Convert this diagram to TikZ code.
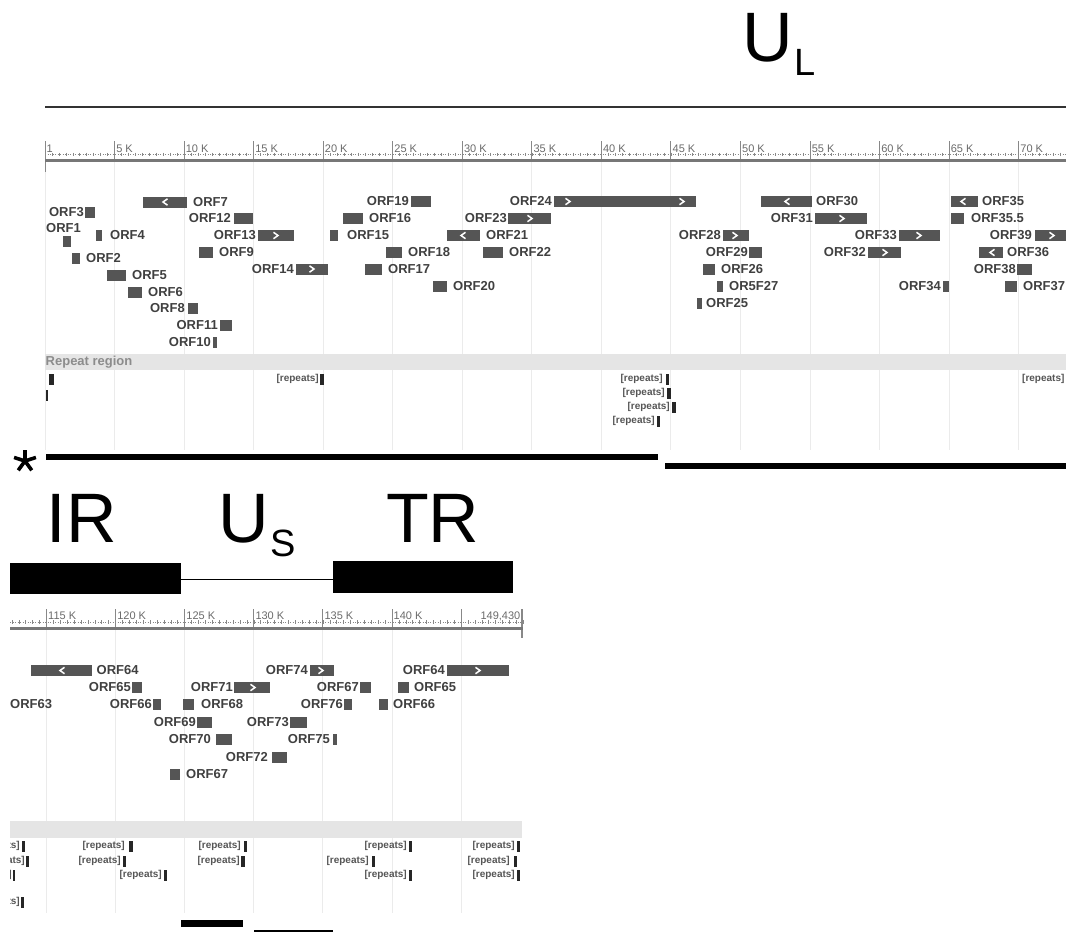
\documentclass[tikz,border=0pt]{standalone}
\usepackage{fontspec}
\setmainfont{Liberation Sans}
\definecolor{genefill}{HTML}{555555}
\definecolor{labtxt}{HTML}{404040}
\definecolor{reptxt}{HTML}{555555}
\definecolor{barfill}{HTML}{E5E5E5}
\definecolor{gridc}{HTML}{EBEBEB}
\definecolor{axisc}{HTML}{777777}
\definecolor{tickc}{HTML}{888888}
\definecolor{ticktxt}{HTML}{6A6A6A}
\newcommand\gbox[3]{\fill[genefill] (#1,#3) rectangle (#2,{#3+11});}
\newcommand\chR[2]{\draw[chev] ({#1-2.5},{#2-3.2}) -- ({#1+2},#2) -- ({#1-2.5},{#2+3.2});}
\newcommand\chL[2]{\draw[chev] ({#1+2.5},{#2-3.2}) -- ({#1-2},#2) -- ({#1+2.5},{#2+3.2});}
\newcommand\rbar[3]{\fill[black!85] (#1,{#3-5.5}) rectangle (#2,{#3+5.5});}
\begin{document}
\begin{tikzpicture}[x=1pt,y=-1pt,
  lab/.style={font=\bfseries\fontsize{13}{13}\selectfont, text=labtxt, inner sep=0},
  rep/.style={font=\bfseries\fontsize{10}{10}\selectfont, text=reptxt, inner sep=0, anchor=east},
  tick/.style={font=\fontsize{11}{11}\selectfont, text=ticktxt, inner sep=0, anchor=base west},
  big/.style={font=\fontsize{70}{70}\selectfont, inner sep=0, anchor=base west},
  sub/.style={font=\fontsize{38}{38}\selectfont, inner sep=0, anchor=base west},
  chev/.style={white, line width=1.5pt},
  grid/.style={gridc, line width=1pt},
  major/.style={tickc, line width=1pt},
  minor/.style={tickc, line width=0.6pt},
  axis/.style={axisc, line width=3pt},
  region/.style={black, line width=6.5pt}]
\useasboundingbox (0,0) rectangle (1066,932);
\clip (0,0) rectangle (1066,932);

% ===== TOP PANEL =====
\node[big] (UL) at (742,61) {U};
\node[sub] (ULs) at (794,75) {L};
\draw[black!80, line width=2.2pt] (45,107) -- (1066,107);

% grid lines
\foreach \k in {0,5,...,70} {
  \pgfmathsetmacro\xx{45+\k*13.91}
  \draw[grid] (\xx,161) -- (\xx,450);
}
% ruler
\draw[minor, dash pattern=on 1pt off 1.5pt] (45,154.5) -- (1066,154.5);
\foreach \i in {1,...,146} {
  \pgfmathsetmacro\xx{45+\i*6.955}
  \draw[minor] (\xx,152.5) -- (\xx,156);
}
\draw[major] (45,141) -- (45,172);
\node[tick] (t1) at (46.5,152) {1};
\foreach \k in {5,10,...,70} {
  \pgfmathsetmacro\xx{45+\k*13.91}
  \draw[major] (\xx,141) -- (\xx,160);
  \node[tick] (tk\k) at (\xx+1.5,152) {\k\ K};
}
\draw[axis] (45,160) -- (1066,160);

% genes, row A (ytop 196)
\gbox{143}{187}{196.5} \chL{165}{202}
\node[lab,anchor=west] (o7) at (193,202) {ORF7};
\gbox{411}{431}{196}
\node[lab,anchor=east] (o19) at (409,201.5) {ORF19};
\gbox{554}{696}{196} \chR{568}{201.5} \chR{682}{201.5}
\node[lab,anchor=east] (o24) at (552,201.5) {ORF24};
\gbox{761}{812}{196} \chL{787}{201.5}
\node[lab,anchor=west] (o30) at (816,201.5) {ORF30};
\gbox{951}{978}{196} \chL{963}{201.5}
\node[lab,anchor=west] (o35) at (982,201.5) {ORF35};
% row B (ytop 213)
\gbox{85}{95}{207}
\node[lab,anchor=east] (o3) at (84,212.5) {ORF3};
\gbox{234}{253}{213}
\node[lab,anchor=east] (o12) at (231,218.5) {ORF12};
\gbox{343}{363}{213}
\node[lab,anchor=west] (o16) at (369,218.5) {ORF16};
\gbox{508}{551}{213} \chR{530}{218.5}
\node[lab,anchor=east] (o23) at (507,218.5) {ORF23};
\gbox{815}{867}{213} \chR{842}{218.5}
\node[lab,anchor=east] (o31) at (813,218.5) {ORF31};
\gbox{951}{964}{213}
\node[lab,anchor=west] (o355) at (971,218.5) {ORF35.5};
% row C (ytop 230)
\node[lab,anchor=west] (o1) at (46,228) {ORF1};
\gbox{63}{71}{236}
\gbox{96}{102}{230}
\node[lab,anchor=west] (o4) at (110,235.5) {ORF4};
\gbox{258}{294}{230} \chR{276}{235.5}
\node[lab,anchor=east] (o13) at (256,235.5) {ORF13};
\gbox{330}{338}{230}
\node[lab,anchor=west] (o15) at (347,235.5) {ORF15};
\gbox{447}{480}{230} \chL{463}{235.5}
\node[lab,anchor=west] (o21) at (486,235.5) {ORF21};
\gbox{723}{749}{230} \chR{735}{235.5}
\node[lab,anchor=east] (o28) at (721,235.5) {ORF28};
\gbox{899}{940}{230} \chR{919}{235.5}
\node[lab,anchor=east] (o33) at (897,235.5) {ORF33};
\gbox{1035}{1070}{230} \chR{1052}{235.5}
\node[lab,anchor=east] (o39) at (1032,235.5) {ORF39};
% row D (ytop 247)
\gbox{72}{80}{253}
\node[lab,anchor=west] (o2) at (86,258.5) {ORF2};
\gbox{199}{213}{247}
\node[lab,anchor=west] (o9) at (219,252.5) {ORF9};
\gbox{386}{402}{247}
\node[lab,anchor=west] (o18) at (408,252.5) {ORF18};
\gbox{483}{503}{247}
\node[lab,anchor=west] (o22) at (509,252.5) {ORF22};
\gbox{749}{762}{247}
\node[lab,anchor=east] (o29) at (748,252.5) {ORF29};
\gbox{868}{901}{247} \chR{885}{252.5}
\node[lab,anchor=east] (o32) at (866,252.5) {ORF32};
\gbox{979}{1003}{247} \chL{992}{252.5}
\node[lab,anchor=west] (o36) at (1007,252.5) {ORF36};
% row E (ytop 263.5)
\gbox{107}{126}{270}
\node[lab,anchor=west] (o5) at (132,275.5) {ORF5};
\gbox{296}{328}{263.5} \chR{312}{269}
\node[lab,anchor=east] (o14) at (294,269) {ORF14};
\gbox{365}{382}{263.5}
\node[lab,anchor=west] (o17) at (388,269) {ORF17};
\gbox{703}{715}{263.5}
\node[lab,anchor=west] (o26) at (721,269) {ORF26};
\gbox{1017}{1032}{263.5}
\node[lab,anchor=east] (o38) at (1016,269) {ORF38};
% row F (ytop 281)
\gbox{128}{142}{287}
\node[lab,anchor=west] (o6) at (148,292.5) {ORF6};
\gbox{433}{447}{281}
\node[lab,anchor=west] (o20) at (453,286.5) {ORF20};
\gbox{717}{723}{281}
\node[lab,anchor=west] (o27) at (729,286.5) {OR5F27};
\gbox{943}{949}{281}
\node[lab,anchor=east] (o34) at (941,286.5) {ORF34};
\gbox{1005}{1017}{281}
\node[lab,anchor=west] (o37) at (1023,286.5) {ORF37};
% row G and lower
\gbox{697}{702}{298}
\node[lab,anchor=west] (o25) at (706,303.5) {ORF25};
\gbox{188}{198}{303}
\node[lab,anchor=east] (o8) at (185,308.5) {ORF8};
\gbox{220}{232}{320}
\node[lab,anchor=east] (o11) at (218,325.5) {ORF11};
\gbox{213}{217}{337}
\node[lab,anchor=east] (o10) at (211,342.5) {ORF10};

% repeat region
\fill[barfill] (45,354) rectangle (1066,370);
\node[font=\bfseries\fontsize{13}{13}\selectfont, text=black!45, inner sep=0, anchor=west] (rr) at (45.5,362) {Repeat region};
\rbar{49}{54}{379}
\fill[black!85] (45.5,390) rectangle (47.5,401);
\node[rep] (r1) at (319,379) {[repeats]};
\rbar{320}{324}{379}
\node[rep] (r2) at (663,379) {[repeats]};
\rbar{665.5}{669}{379}
\node[rep] (r3) at (665,393) {[repeats]};
\rbar{666.5}{670.5}{393}
\node[rep] (r4) at (670,407) {[repeats]};
\rbar{671.5}{675.5}{407}
\node[rep] (r5) at (655,421) {[repeats]};
\rbar{657}{660}{421}
\node[rep,anchor=west] (r6) at (1022,379) {[repeats]};

% asterisk and region lines
\foreach \a in {90,18,162,234,306} {
  \draw[black, line width=3.6pt] (25,461) -- ++(\a:-11.5);
}
\coordinate (l1a) at (46,457);
\coordinate (l1b) at (658,457);
\coordinate (l2a) at (665,466);
\coordinate (l2b) at (1066,466);
\draw[region] (l1a) -- (l1b);
\draw[region] (l2a) -- (l2b);

% ===== BOTTOM PANEL =====
\begin{scope}
\clip (10,470) rectangle (1066,932);
\node[big] (IR) at (46.5,542) {IR};
\node[big] (US) at (218,542) {U};
\node[sub] (USs) at (270,556) {S};
\node[big] (TR) at (386,542) {TR};
\fill[black] (10,563) rectangle (181,594);
\fill[black] (333,561) rectangle (513,593);
\draw[black, line width=1.8pt] (181,579.5) -- (333,579.5);

\foreach \k in {115,120,...,145} {
  \pgfmathsetmacro\xx{46.5+(\k-115)*13.82}
  \draw[grid] (\xx,630) -- (\xx,913);
}
\draw[minor, dash pattern=on 1pt off 1.5pt] (10,622) -- (522,622);
\foreach \i in {225,...,299} {
  \pgfmathsetmacro\xx{46.5+(\i*0.5-115)*13.82}
  \draw[minor] (\xx,620) -- (\xx,623.5);
}
\foreach \k in {115,120,...,140} {
  \pgfmathsetmacro\xx{46.5+(\k-115)*13.82}
  \draw[major] (\xx,609) -- (\xx,628);
  \node[tick] (bk\k) at (\xx+1.5,619) {\k\ K};
}
\draw[major] (461,609) -- (461,628);
\node[tick,anchor=base east] (bend) at (520.5,619) {149,430};
\draw[major, line width=1.6pt] (522,609) -- (522,638);
\draw[axis] (10,628) -- (522.8,628);

% genes bottom
\gbox{31}{92}{665} \chL{62}{670.5}
\node[lab,anchor=west] (p64a) at (96.5,670.5) {ORF64};
\gbox{310}{334}{665} \chR{321}{670.5}
\node[lab,anchor=east] (p74) at (308,670.5) {ORF74};
\gbox{447}{509}{665} \chR{478}{670.5}
\node[lab,anchor=east] (p64b) at (445,670.5) {ORF64};
\gbox{132}{142}{682}
\node[lab,anchor=east] (p65a) at (131,687.5) {ORF65};
\gbox{234}{270}{682} \chR{253}{687.5}
\node[lab,anchor=east] (p71) at (233,687.5) {ORF71};
\gbox{360}{371}{682}
\node[lab,anchor=east] (p67b) at (359,687.5) {ORF67};
\gbox{398}{409}{682}
\node[lab,anchor=west] (p65b) at (414,687.5) {ORF65};
\node[lab,anchor=west] (p63) at (10,704.5) {ORF63};
\gbox{153}{161}{699}
\node[lab,anchor=east] (p66a) at (152,704.5) {ORF66};
\gbox{183}{194}{699}
\node[lab,anchor=west] (p68) at (201,704.5) {ORF68};
\gbox{344}{352}{699}
\node[lab,anchor=east] (p76) at (343,704.5) {ORF76};
\gbox{379}{388}{699}
\node[lab,anchor=west] (p66b) at (393,704.5) {ORF66};
\gbox{197}{212}{717}
\node[lab,anchor=east] (p69) at (196,722.5) {ORF69};
\gbox{290}{307}{717}
\node[lab,anchor=east] (p73) at (289,722.5) {ORF73};
\gbox{215.5}{232}{734}
\node[lab,anchor=east] (p70) at (211,739.5) {ORF70};
\gbox{333}{337}{734}
\node[lab,anchor=east] (p75) at (330,739.5) {ORF75};
\gbox{272}{287}{752}
\node[lab,anchor=east] (p72) at (268,757.5) {ORF72};
\gbox{170}{180}{768.5}
\node[lab,anchor=west] (p67a) at (186,774) {ORF67};

% repeat region bottom
\fill[barfill] (10,821) rectangle (522,838);
% row 1
\node[rep] (q1) at (20,846) {[repeats]};
\rbar{22}{25}{846}
\node[rep] (q2) at (125,846) {[repeats]};
\rbar{129}{133}{846}
\node[rep] (q3) at (241,846) {[repeats]};
\rbar{244}{247}{846}
\node[rep] (q4) at (407,846) {[repeats]};
\rbar{409}{412}{846}
\node[rep] (q5) at (515,846) {[repeats]};
\rbar{517}{520}{846}
% row 2
\node[rep] (q6) at (25,861) {[repeats]};
\rbar{26}{28.5}{861}
\node[rep] (q7) at (121,861) {[repeats]};
\rbar{123}{126}{861}
\node[rep] (q8) at (240,861) {[repeats]};
\rbar{241}{245}{861}
\node[rep] (q9) at (369,861) {[repeats]};
\rbar{372}{375}{861}
\node[rep] (q10) at (510,861) {[repeats]};
\rbar{514}{517}{861}
% row 3
\node[rep] (q11) at (12,875) {[repeats]};
\rbar{12.5}{15}{875}
\node[rep] (q12) at (162,875) {[repeats]};
\rbar{164}{167}{875}
\node[rep] (q13) at (407,875) {[repeats]};
\rbar{409}{412}{875}
\node[rep] (q14) at (515,875) {[repeats]};
\rbar{517}{520}{875}
% row 4
\node[rep] (q15) at (20,902) {[repeats]};
\rbar{21}{23.5}{902}

\coordinate (l3a) at (181,923.5);
\coordinate (l3b) at (243,923.5);
\coordinate (l4a) at (254,932.5);
\coordinate (l4b) at (333,932.5);
\draw[black, line width=6.5pt] (l3a) -- (l3b);
\draw[black, line width=6pt] (l4a) -- (l4b);
\end{scope}
\end{tikzpicture}
\end{document}
